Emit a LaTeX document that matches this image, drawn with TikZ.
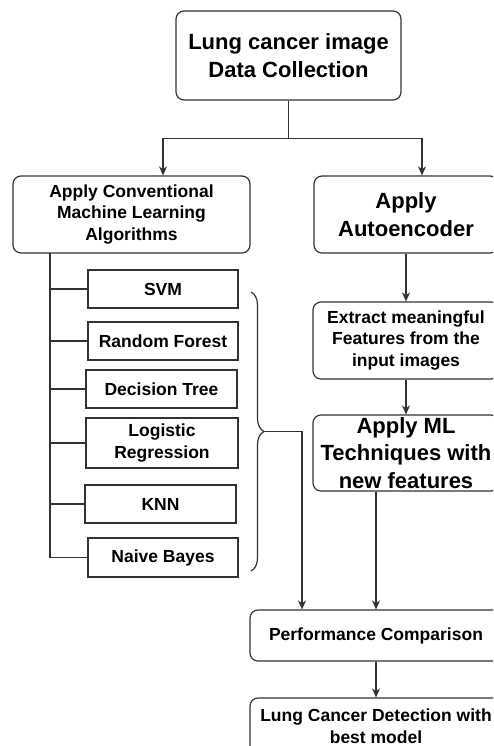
\documentclass[tikz,border=0pt]{standalone}
\usepackage{fontspec}
\setmainfont{Liberation Sans}
\usepackage{xcolor}
\usetikzlibrary{arrows.meta,decorations.pathreplacing}
\definecolor{linegray}{HTML}{333333}

\begin{document}
\begin{tikzpicture}[x=1pt,y=-1pt,
  box/.style={draw=linegray,line width=1.2pt,rounded corners=8pt,align=center,inner sep=0pt,
    font=\bfseries\fontsize{17.5}{21.5}\selectfont},
  bigbox/.style={box,font=\bfseries\fontsize{22}{27.5}\selectfont},
  algo/.style={box,rounded corners=0pt},
  conn/.style={draw=linegray,line width=1.2pt},
  arr/.style={conn,-{Stealth[length=9pt,width=8pt]}}]
\fill[white] (0,0) rectangle (493,746);
\clip (0,0) rectangle (493,746);

\node [bigbox,minimum width=225pt,minimum height=89pt] (data) at (288.5,55.5) {Lung cancer image\\Data Collection};
\node [box,minimum width=237pt,minimum height=77pt] (conv) at (131.5,214.5) {Apply Conventional\\Machine Learning\\Algorithms};
\node [bigbox,minimum width=184pt,minimum height=77pt] (auto) at (406,214.5) {Apply\\Autoencoder};

\node [algo,minimum width=150pt,minimum height=38pt] (svm) at (163,289) {SVM};
\node [algo,minimum width=150pt,minimum height=38pt] (rf) at (163,341) {Random Forest};
\node [algo,minimum width=151pt,minimum height=38pt] (dt) at (161.5,389) {Decision Tree};
\node [algo,minimum width=152pt,minimum height=50pt] (lr) at (162,443) {Logistic\\Regression};
\node [algo,minimum width=151pt,minimum height=38pt] (knn) at (160.5,504) {KNN};
\node [algo,minimum width=150pt,minimum height=39pt] (nb) at (163,557.5) {Naive Bayes};

\node [box,minimum width=186pt,minimum height=77pt] (feat) at (406,340.5) {Extract meaningful\\Features from the\\input images};
\node [bigbox,minimum width=186pt,minimum height=76pt] (mlnew) at (406,453) {Apply ML\\Techniques with\\new features};
\node [box,minimum width=252pt,minimum height=51pt] (perf) at (376,635.5) {Performance Comparison};
\node [box,minimum width=252pt,minimum height=56pt] (best) at (376,726) {Lung Cancer Detection with\\best model};

\draw [arr] (data.south) -- ++(0,38) -| ([xshift=31.5pt]conv.north);
\draw [arr] (data.south) -- ++(0,38) -| ([xshift=16pt]auto.north);

\coordinate (trunk) at (50,253);
\draw [conn] (trunk) |- (nb.west);
\foreach \alg in {svm,rf,dt,lr,knn}
  \draw [conn] (\alg.west) -- (\alg.west -| trunk);

\coordinate (bracetop) at (251,292);
\coordinate (bracebot) at (251,571);
\coordinate (bracetip) at (264,431.5);
\draw [conn,decorate,decoration={brace,amplitude=13pt}] (bracetop) -- (bracebot);
\draw [arr] (bracetip) -| ([xshift=-74pt]perf.north);

\draw [arr] (auto.south) -- (feat.north);
\draw [arr] (feat.south) -- (mlnew.north);
\draw [arr] ([xshift=-30pt]mlnew.south) -- (perf.north);
\draw [arr] (perf.south) -- (best.north);
\end{tikzpicture}
\end{document}
